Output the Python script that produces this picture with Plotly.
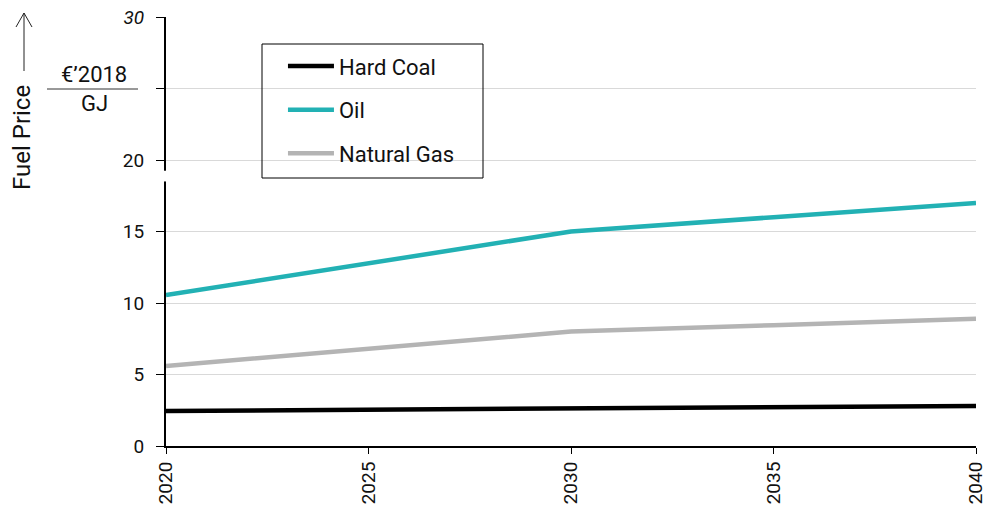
import plotly.graph_objects as go

years = [2020, 2025, 2030, 2035, 2040]
hard_coal = [2.45, 2.55, 2.65, 2.72, 2.8]
oil = [10.55, 12.75, 15.0, 16.0, 17.0]
natural_gas = [5.6, 6.8, 8.0, 8.45, 8.9]

series_names = ["Hard Coal", "Oil", "Natural Gas"]
series_colors = ["#000000", "#22b1b4", "#b4b4b4"]

y_tickvals = [0, 5, 10, 15, 20, 25, 30]
y_ticktext = ["0", "5", "10", "15", "20", "", "<i>30</i>"]
x_tickvals = [2020, 2025, 2030, 2035, 2040]

FONT = "Roboto"
TXT = "#111111"

fig = go.Figure()
for i, (name, vals) in enumerate(zip(series_names, [hard_coal, oil, natural_gas])):
    fig.add_trace(go.Scatter(
        x=years, y=vals, mode="lines", name=name,
        line=dict(color=series_colors[i], width=4.5),
        legendgroup=name,
    ))

fig.update_layout(
    width=987, height=508,
    margin=dict(l=166, r=11, t=17, b=62, autoexpand=False),
    paper_bgcolor="white", plot_bgcolor="white",
    font=dict(family=FONT, size=19, color=TXT),
    showlegend=True,
    legend=dict(
        x=0.1444, y=0.934, xanchor="left", yanchor="top",
        bgcolor="rgba(0,0,0,0)", borderwidth=0,
        itemwidth=46, tracegroupgap=12,
        font=dict(family=FONT, size=22, color=TXT),
    ),
)

fig.update_xaxes(
    range=[2020, 2040], tickvals=x_tickvals, tickangle=-90, automargin=False,
    ticklabeloverflow="allow",
    showgrid=False, zeroline=False,
    showline=True, linecolor="black", linewidth=2,
    ticks="outside", ticklen=6, tickcolor="black", tickwidth=1,
    tickfont=dict(family=FONT, size=19, color=TXT),
)
fig.update_yaxes(
    range=[0, 30], tickvals=y_tickvals, ticktext=y_ticktext, automargin=False,
    ticklabeloverflow="allow", ticklabelstandoff=8,
    showgrid=True, gridcolor="#d9d9d9", gridwidth=1, zeroline=False,
    showline=True, linecolor="black", linewidth=2,
    ticks="outside", ticklen=8, tickcolor="black", tickwidth=1,
    tickfont=dict(family=FONT, size=19, color=TXT),
)


def px_x(p):
    return (p - 166) / 810


def px_y(p):
    return (446 - p) / 429


# legend frame
fig.add_shape(type="rect", xref="paper", yref="paper",
              x0=px_x(262), x1=px_x(483), y0=px_y(178), y1=px_y(44),
              line=dict(color="black", width=1), fillcolor="rgba(0,0,0,0)")

# axis break gap
fig.add_shape(type="rect", xref="paper", yref="y",
              x0=-0.004, x1=0.004, y0=18.5, y1=19.25,
              line=dict(width=0), fillcolor="white", layer="above")

# y-axis title
fig.add_annotation(xref="paper", yref="paper", x=px_x(22), y=px_y(138),
                   xanchor="center", yanchor="middle",
                   text="Fuel Price", textangle=-90, showarrow=False,
                   font=dict(family=FONT, size=24, color=TXT))
# arrow
for (x0, y0, x1, y1) in [(24, 71, 24, 13), (24, 13, 16, 27), (24, 13, 32, 27)]:
    fig.add_shape(type="line", xref="paper", yref="paper",
                  x0=px_x(x0), y0=px_y(y0), x1=px_x(x1), y1=px_y(y1),
                  line=dict(color="#222222", width=1))
# unit fraction
fig.add_annotation(xref="paper", yref="paper", x=px_x(94), y=px_y(74),
                   xanchor="center", yanchor="middle",
                   text="€’2018", showarrow=False,
                   font=dict(family=FONT, size=22, color=TXT))
fig.add_annotation(xref="paper", yref="paper", x=px_x(94), y=px_y(103),
                   xanchor="center", yanchor="middle",
                   text="GJ", showarrow=False,
                   font=dict(family=FONT, size=22, color=TXT))
fig.add_shape(type="line", xref="paper", yref="paper",
              x0=px_x(47), x1=px_x(138), y0=px_y(89), y1=px_y(89),
              line=dict(color="#333333", width=1))

fig.write_html(
    "out.html",
    config={"displayModeBar": False},
    post_script="document.body.style.margin='0';document.body.style.overflow='hidden';",
)
